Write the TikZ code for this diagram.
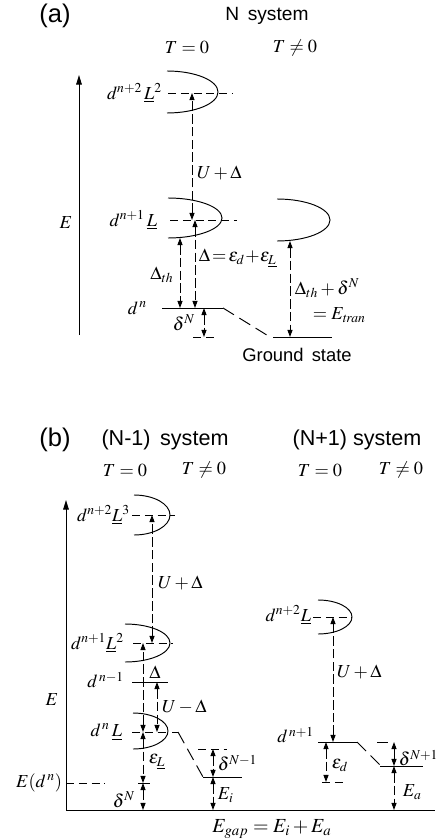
\documentclass[tikz,border=0pt]{standalone}
\usepackage{mathptmx}
\usepackage[no-math]{fontspec}
\newfontfamily\labelfont{Liberation Sans}
\usetikzlibrary{arrows.meta}

\tikzset{
  tip/.tip={Triangle[length=4.5pt,width=3.2pt]},
  dimarrow/.style={line width=0.6pt, dash pattern=on 6pt off 2pt, tip-tip},
  axisline/.style={line width=0.6pt, -{Triangle[length=6pt,width=3.5pt]}},
  level/.style={line width=0.6pt},
  dlevel/.style={line width=0.6pt, dash pattern=on 5pt off 3pt},
  slope/.style={line width=0.6pt, dash pattern=on 8pt off 4pt},
  sys/.style={font=\labelfont\fontsize{12}{14}\selectfont},
  sysb/.style={font=\labelfont\fontsize{13.5}{15}\selectfont},
  panel/.style={font=\labelfont\fontsize{16}{18}\selectfont},
}

% half ellipse open to the left: centre x, centre y, x radius, y radius
\newcommand{\halflobe}[4]{%
  \draw[level] (#1,#2-#4) .. controls (#1+0.552*#3,#2-#4) and (#1+#3,#2-0.552*#4) .. (#1+#3,#2)
    .. controls (#1+#3,#2+0.552*#4) and (#1+0.552*#3,#2+#4) .. (#1,#2+#4);}

\begin{document}
\begin{tikzpicture}[x=0.022cm,y=-0.022cm,font=\fontsize{11.5}{13}\selectfont,inner sep=1pt]
\useasboundingbox (0,0) rectangle (440,839);

%%%%% (a) N system
\node[panel] (pa) at (55,16) {(a)};
\node[sys] (nsys) at (267,16) {N\, system};
\node (aT0) at (187,48) {$T=0$};
\node (aT1) at (295,48) {$T\neq0$};

\coordinate (aAxB) at (79,335);
\coordinate (aAxT) at (79,75);
\draw[axisline] (aAxB) -- (aAxT);
\node (aE) at (66,223) {$E$};

% levels
\coordinate (aL2) at (0,93);
\coordinate (aL1) at (0,220);
\coordinate (aL1b) at (0,238);
\coordinate (aR) at (0,241);
\coordinate (aL0) at (0,308);
\coordinate (aG) at (0,337);
% arrow columns
\coordinate (cth) at (180,0);
\coordinate (cU) at (192,0);
\coordinate (cD) at (195,0);
\coordinate (cdN) at (204,0);
\coordinate (ctr) at (290,0);

\halflobe{167}{92}{51}{21}
\halflobe{168}{218}{54}{20}
\halflobe{277}{220}{53}{21}
\draw[dlevel] (168,93) -- (233,93);
\draw[dlevel] (170,220) -- (237,220);
\draw[level] (162,308) -- (223,308);
\draw[slope] (223,308) -- (270,337);
\draw[level] (273,337) -- (332,337);
\draw[dlevel] (193,337) -- (218,337);

\draw[dimarrow] (cU |- aL1) -- (cU |- aL2);
\draw[dimarrow] (cD |- aL1) -- (cD |- aL0);
\draw[dimarrow] (cth |- aL1b) -- (cth |- aL0);
\draw[dimarrow] (cdN |- aL0) -- (cdN |- aG);
\draw[dimarrow] (ctr |- aR) -- (ctr |- aG);

\node[anchor=east] (aLab2) at (164,93) {$d^{n+2}\,\underline{L}^{2}$};
\node[anchor=east] (aLab1) at (159,220) {$d^{n+1}\,\underline{L}$};
\node[anchor=east] (aLab0) at (149,308) {$d^{\,n}$};
\node[anchor=west] (aUD) at (195,173) {$U+\Delta$};
\node (aDth) at (162,275) {$\Delta_{th}$};
\node[anchor=west] (aDel) at (197,258) {$\Delta\!=\!\varepsilon_d\!+\!\varepsilon_{\underline{L}}$};
\node (adN) at (184,323) {$\delta^N$};
\node[anchor=west] (aTr1) at (293,288) {$\Delta_{th}+\delta^N$};
\node[anchor=west] (aTr2) at (311,315) {$=E_{\mathit{tran}}$};
\node[sys,font=\labelfont\fontsize{11.5}{13}\selectfont] (gs) at (297,355) {Ground\, state};

%%%%% (b) N-1 and N+1 systems
\node[panel] (pb) at (55,440) {(b)};
\node[sysb] (msys) at (165,440) {(N-1)\, system};
\node[sysb] (psys) at (357,440) {(N+1) system};
\node (bT0) at (125,470) {$T=0$};
\node (bT1) at (204,470) {$T\neq0$};
\node (cT0) at (320,470) {$T=0$};
\node (cT1) at (401,470) {$T\neq0$};

\coordinate (bO) at (66,810);
\coordinate (bAxT) at (66,500);
\coordinate (bAxR) at (435,810);
\draw[axisline] (bO) -- (bAxT);
\draw[level] (bO) -- (bAxR);
\node (bE) at (52,700) {$E$};

% levels
\coordinate (bL3) at (0,515);
\coordinate (bL2) at (0,643);
\coordinate (bLm) at (0,682);
\coordinate (bL1) at (0,732);
\coordinate (bL1b) at (0,749);
\coordinate (bLi) at (0,777);
\coordinate (bLE) at (0,783);
\coordinate (bL0) at (0,810);
\coordinate (cL2) at (0,617);
\coordinate (cL1) at (0,742);
\coordinate (cLa) at (0,766);
\coordinate (cLd) at (0,782);
% arrow columns
\coordinate (bcD) at (143,0);
\coordinate (bcU) at (152,0);
\coordinate (bcM) at (157,0);
\coordinate (bci) at (213,0);
\coordinate (ccU) at (333,0);
\coordinate (ccd) at (326,0);
\coordinate (cca) at (394,0);

% N-1 side
\halflobe{134}{515}{36}{20}
\halflobe{125}{643}{45}{19}
\halflobe{133}{731}{35}{18}
\draw[dlevel] (132,515) -- (175,515);
\draw[dlevel] (133,643) -- (173,643);
\draw[level] (132,682) -- (168,682);
\draw[dlevel] (132,732) -- (167,732);
\draw[level] (172,732) -- (178,732);
\draw[slope] (178,732) -- (203,777);
\draw[level] (203,777) -- (242,777);
\draw[dlevel] (198,749) -- (227,749);
\draw[dlevel] (bO |- bLE) -- (105,783);
\draw[level] (138,783) -- (150,783);

\draw[dimarrow] (bcU |- bL2) -- (bcU |- bL3);
\draw[dimarrow] (bcD |- bL1) -- (bcD |- bL2);
\draw[dimarrow] (bcM |- bLm) -- (bcM |- bL1);
\draw[dimarrow] (bcD |- bL1) -- (bcD |- bLE);
\draw[dimarrow] (bcD |- bLE) -- (bcD |- bL0);
\draw[dimarrow] (bci |- bL1b) -- (bci |- bLi);
\draw[dimarrow] (bci |- bLi) -- (bci |- bL0);

\node[anchor=east] (bLab3) at (132,515) {$d^{n+2}\underline{L}^{3}$};
\node[anchor=west] (bUD) at (156,583) {$U+\Delta$};
\node[anchor=east] (bLab2) at (126,643) {$d^{n+1}\underline{L}^{2}$};
\node[anchor=east] (bLabm) at (126,680) {$d^{\,n-1}$};
\node (bDel) at (155,672) {$\Delta$};
\node[anchor=west] (bUM) at (160,707) {$U-\Delta$};
\node[anchor=east] (bLab1) at (124,732) {$d^{\,n}\,\underline{L}$};
\node (beL) at (157,762) {$\varepsilon_{\underline{L}}$};
\node[anchor=east] (bEdn) at (64,783) {$E(d^{\,n})$};
\node (bdN) at (124,800) {$\delta^N$};
\node[anchor=west] (bdNm) at (216,763) {$\delta^{N-1}$};
\node[anchor=west] (bEi) at (216,795) {$E_i$};

% N+1 side
\halflobe{318}{617}{34}{17}
\draw[dlevel] (313,617) -- (352,617);
\draw[level] (318,742) -- (357,742);
\draw[slope] (357,742) -- (381,766);
\draw[level] (380,766) -- (423,766);
\draw[level] (377,742) -- (388,742);
\draw[dlevel] (322,782) -- (347,782);

\draw[dimarrow] (ccU |- cL1) -- (ccU |- cL2);
\draw[dimarrow] (ccd |- cL1) -- (ccd |- cLd);
\draw[dimarrow] (cca |- cL1) -- (cca |- cLa);
\draw[dimarrow] (cca |- cLa) -- (cca |- bL0);

\node[anchor=east] (cLab2) at (313,615) {$d^{n+2}\underline{L}$};
\node[anchor=west] (cUD) at (335,672) {$U+\Delta$};
\node[anchor=east] (cLab1) at (316,735) {$d^{\,n+1}$};
\node[anchor=west] (ced) at (330,765) {$\varepsilon_d$};
\node[anchor=west] (cdNp) at (397,758) {$\delta^{N+1}$};
\node[anchor=west] (cEa) at (401,792) {$E_a$};

\node[font=\fontsize{12.5}{14}\selectfont] (gap) at (272,829) {$E_{gap}=E_i+E_a$};

\end{tikzpicture}
\end{document}
